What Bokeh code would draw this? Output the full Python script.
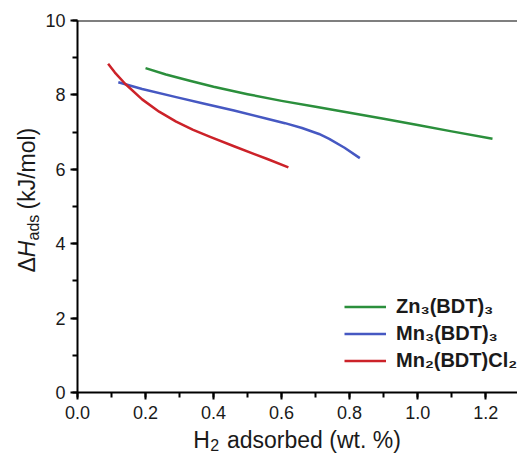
from math import pi
from bokeh.plotting import figure
from bokeh.layouts import row, column
from bokeh.models import (Range1d, SingleIntervalTicker, PrintfTickFormatter,
                          Legend, LegendItem, Label, Span)
from bokeh.embed import file_html
from bokeh.resources import INLINE

# ---- data ----
zn_x = [0.20, 0.26, 0.33, 0.40, 0.50, 0.60, 0.70, 0.80, 0.90, 1.00, 1.10, 1.22]
zn_y = [8.72, 8.55, 8.38, 8.22, 8.02, 7.84, 7.68, 7.52, 7.36, 7.19, 7.02, 6.82]

mn3_x = [0.12, 0.19, 0.29, 0.37, 0.46, 0.56, 0.61, 0.66, 0.71, 0.74, 0.785, 0.83]
mn3_y = [8.34, 8.16, 7.94, 7.77, 7.58, 7.35, 7.24, 7.11, 6.95, 6.82, 6.58, 6.30]

mn2_x = [0.09, 0.11, 0.14, 0.19, 0.24, 0.29, 0.34, 0.39, 0.46, 0.52, 0.56, 0.62]
mn2_y = [8.84, 8.60, 8.30, 7.88, 7.55, 7.28, 7.06, 6.87, 6.62, 6.41, 6.27, 6.05]

series_labels = ["Zn\u2083(BDT)\u2083", "Mn\u2083(BDT)\u2083", "Mn\u2082(BDT)Cl\u2082"]
series_colors = ["#2b8f3c", "#4658c2", "#cc2229"]

x_min, x_max = 0.0, 1.2935
y_min, y_max = 0.0, 10.0
x_major, y_major = 0.2, 2

FONT = "Liberation Sans"
TXT = "#1a1a1a"

YLAB_W = 42
MAIN_W, MAIN_H = 517 - YLAB_W, 428
XLAB_H = 453 - MAIN_H
TOP, BOTTOM = 20, 36

p = figure(width=MAIN_W, height=MAIN_H, output_backend="svg", toolbar_location=None,
           x_range=Range1d(x_min, x_max), y_range=Range1d(y_min, y_max),
           min_border_left=75 - YLAB_W, min_border_right=0, min_border_top=TOP,
           min_border_bottom=BOTTOM)
p.xgrid.visible = False
p.ygrid.visible = False
p.outline_line_color = None
p.background_fill_color = "white"
p.border_fill_color = "white"

p.xaxis.ticker = SingleIntervalTicker(interval=x_major, num_minor_ticks=2)
p.yaxis.ticker = SingleIntervalTicker(interval=y_major, num_minor_ticks=2)
p.xaxis.formatter = PrintfTickFormatter(format="%.1f")
p.yaxis.formatter = PrintfTickFormatter(format="%d")

for ax in (p.xaxis, p.yaxis):
    ax.axis_line_width = 2
    ax.axis_line_color = "black"
    ax.major_tick_line_width = 2
    ax.minor_tick_line_width = 2
    ax.major_tick_line_color = "black"
    ax.minor_tick_line_color = "black"
    ax.major_tick_in = 0
    ax.minor_tick_in = 0
    ax.major_tick_out = 7
    ax.minor_tick_out = 5
    ax.major_label_text_font = FONT
    ax.major_label_text_font_size = "18px"
    ax.major_label_text_color = TXT
p.xaxis.major_label_standoff = 6
p.yaxis.major_label_standoff = 5

# top frame line
p.add_layout(Span(location=y_max, dimension="width", line_color="black", line_width=2))

renderers = []
for xs, ys, c in [(zn_x, zn_y, series_colors[0]),
                  (mn3_x, mn3_y, series_colors[1]),
                  (mn2_x, mn2_y, series_colors[2])]:
    renderers.append(p.line(xs, ys, line_color=c, line_width=2.5, line_join="round"))

legend = Legend(items=[LegendItem(label=l, renderers=[r]) for l, r in zip(series_labels, renderers)],
                location=(267, 18), padding=0, margin=0, spacing=0,
                glyph_width=42, glyph_height=27, label_height=27, label_standoff=10,
                border_line_color=None, background_fill_alpha=0,
                label_text_font=FONT, label_text_font_style="bold",
                label_text_font_size="20px", label_text_color=TXT)
p.add_layout(legend)


def blank_fig(w, h, top=0, bottom=0):
    f = figure(width=w, height=h, output_backend="svg", toolbar_location=None,
               x_axis_type=None, y_axis_type=None,
               x_range=Range1d(0, 1), y_range=Range1d(0, 1),
               min_border=0, min_border_left=0, min_border_right=0,
               min_border_top=top, min_border_bottom=bottom)
    f.outline_line_color = None
    f.background_fill_color = "white"
    f.border_fill_color = "white"
    return f


def add_label(fig, text, x, y, size, style="normal", angle=0.0):
    fig.add_layout(Label(x=x, y=y, x_units="screen", y_units="screen", text=text,
                         text_font=FONT, text_font_size=f"{size}px", text_font_style=style,
                         angle=angle, text_align="left", text_baseline="alphabetic",
                         text_color=TXT))


# y axis label: ΔH_ads (kJ/mol)  (rotated, reads bottom to top)
fy = blank_fig(YLAB_W, MAIN_H, top=TOP, bottom=BOTTOM)
add_label(fy, "\u0394", 26, 120, 23, angle=pi / 2)
add_label(fy, "H", 26, 135.3, 23, style="italic", angle=pi / 2)
add_label(fy, "ads", 33, 152, 16, angle=pi / 2)
add_label(fy, "(kJ/mol)", 26, 183, 23, angle=pi / 2)

# x axis label: H2 adsorbed (wt. %)
fx = blank_fig(517, XLAB_H)
add_label(fx, "H", 192.7, 13.5, 23)
add_label(fx, "2", 209.8, 8.5, 16)
add_label(fx, "adsorbed (wt. %)", 226.5, 13.5, 23)

layout = column(row(fy, p, spacing=0), fx, spacing=0)

open("out.html", "w").write(file_html(layout, INLINE))
